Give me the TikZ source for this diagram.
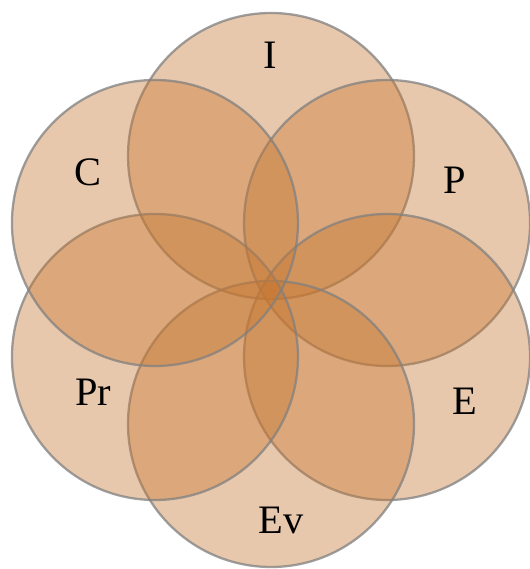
\documentclass[tikz,border=0pt]{standalone}
\usepackage{fontspec}
\setmainfont{Liberation Serif}
\definecolor{petalfill}{RGB}{198,118,48}
\definecolor{petalline}{RGB}{128,128,128}
\tikzset{
  petal/.style={circle, minimum size=5.72cm, inner sep=0pt,
    fill=petalfill, fill opacity=0.4, draw=petalline, draw opacity=0.75, line width=1.3pt},
  tag/.style={font=\fontsize{23}{27}\selectfont, inner sep=0pt}
}
\begin{document}
\begin{tikzpicture}
  \useasboundingbox (0,0) rectangle (10.58,11.38);
  \coordinate (o) at (5.42,5.58);

  % Circles
  \node[petal] (cI)  at ([shift={(90:2.68)}]o) {};
  \node[petal] (cP)  at ([shift={(30:2.68)}]o) {};
  \node[petal] (cE)  at ([shift={(-30:2.68)}]o) {};
  \node[petal] (cEv) at ([shift={(-90:2.68)}]o) {};
  \node[petal] (cPr) at ([shift={(-150:2.68)}]o) {};
  \node[petal] (cC)  at ([shift={(150:2.68)}]o) {};

  % Labels
  \node[tag] (lI)  at (5.40,10.28) {I};
  \node[tag] (lP)  at (9.10,7.78) {P};
  \node[tag] (lE)  at (9.30,3.36) {E};
  \node[tag] (lEv) at (5.62,0.98) {Ev};
  \node[tag] (lPr) at (1.86,3.54) {Pr};
  \node[tag] (lC)  at (1.76,7.94) {C};
\end{tikzpicture}
\end{document}
